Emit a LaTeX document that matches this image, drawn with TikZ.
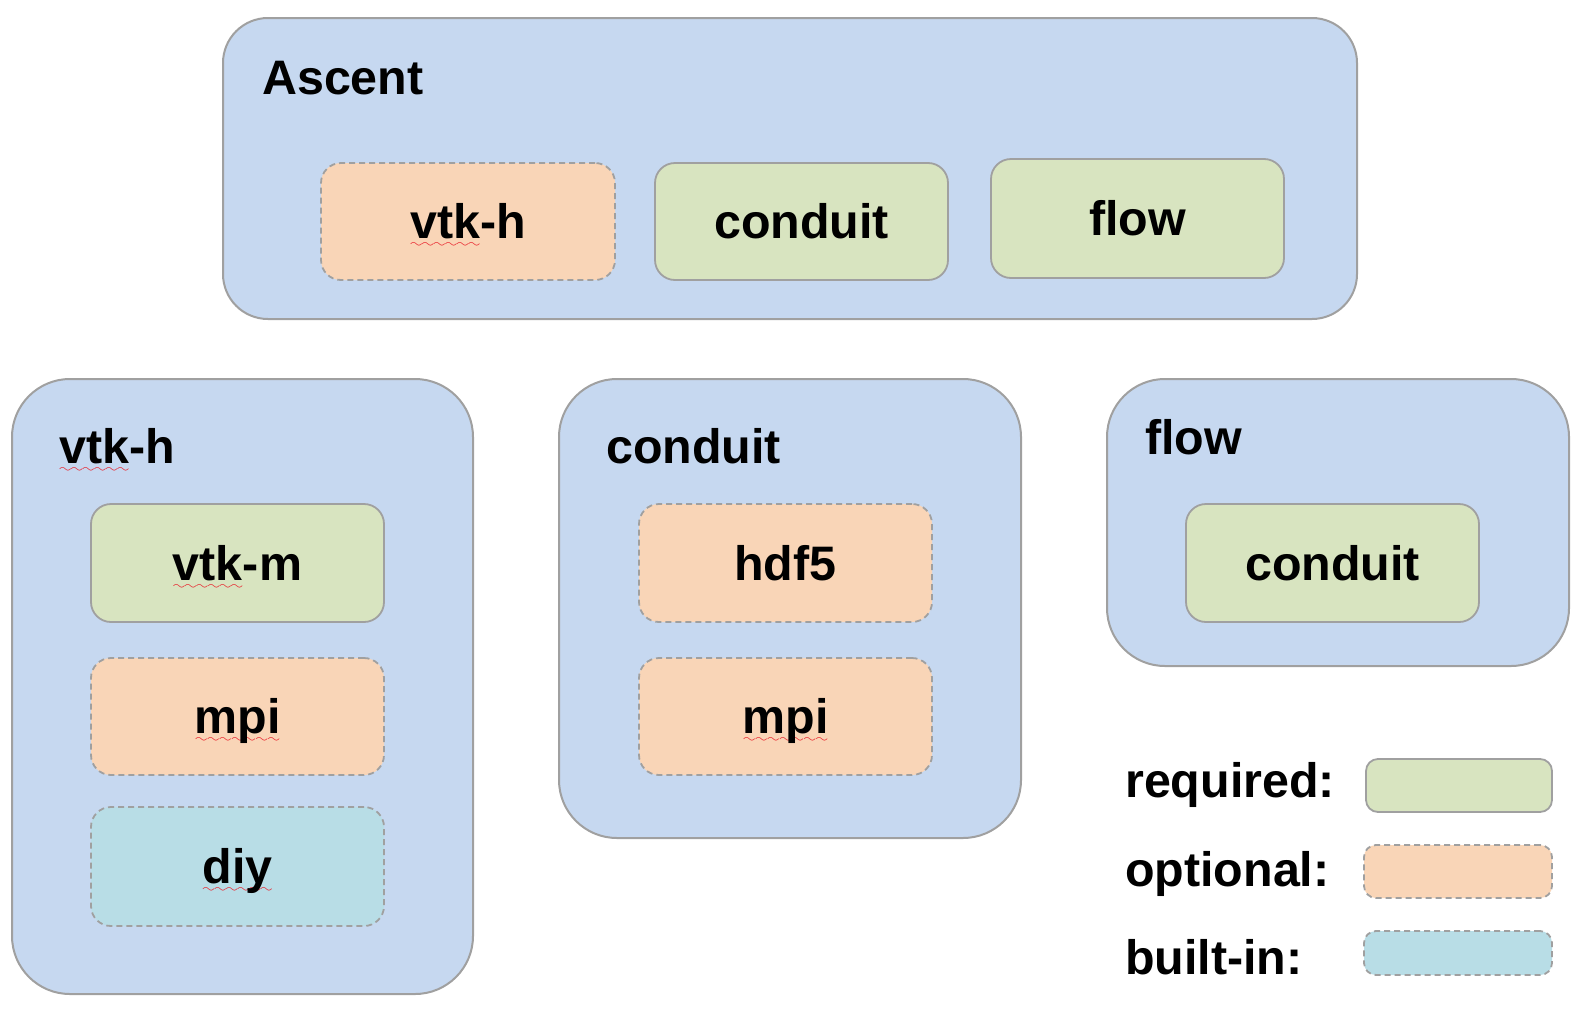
\documentclass[tikz,border=0pt]{standalone}
\usepackage{fontspec}
\setmainfont{Liberation Sans}
\definecolor{groupblue}{HTML}{C6D8F0}
\definecolor{reqgreen}{HTML}{D8E4C0}
\definecolor{optorange}{HTML}{F9D5B7}
\definecolor{bicyan}{HTML}{B8DDE6}
\definecolor{edgegray}{HTML}{A0A0A0}
\definecolor{squigred}{HTML}{E8202A}
\font\squigfont=lasy6 at 13pt
\newsavebox\spellbox
\newcommand\spellerr[1]{\sbox\spellbox{#1}\rlap{\textcolor{squigred}{\lower9pt\hbox to\wd\spellbox{\xleaders\hbox{\squigfont\char58}\hfil}}}\usebox\spellbox}
\newcommand\pkgfont{\fontsize{48.4}{58}\selectfont\bfseries}
\tikzset{
  pkg/.style={draw=edgegray, line width=1.8pt, rounded corners=20pt,
    minimum width=293pt, minimum height=117pt, text height=34pt,
    text depth=0pt, inner sep=0pt, font=\pkgfont},
  reqbox/.style={pkg, fill=reqgreen},
  optbox/.style={pkg, fill=optorange, dash pattern=on 6pt off 4pt},
  bibox/.style={pkg, fill=bicyan, dash pattern=on 6pt off 4pt},
  group/.style={draw=edgegray, line width=2pt, fill=groupblue},
  title/.style={anchor=base west, inner sep=0pt, font=\pkgfont},
}
\begin{document}
\begin{tikzpicture}[x=1pt, y=-1pt]
\useasboundingbox[fill=white] (0,0) rectangle (1582,1012);
% Ascent
\node[group, rounded corners=45pt, minimum width=1134pt, minimum height=301pt] (ascent) at (790,168.5) {};
\node[title] (ascenttitle) at (262,94) {Ascent};
\node[optbox, minimum width=294pt] (ascvtkh) at (468,221.5) {\spellerr{vtk}-h};
\node[reqbox] (ascconduit) at (801.5,221.5) {conduit};
\node[reqbox, minimum height=119pt] (ascflow) at (1137.5,218.5) {flow};
% vtk-h
\node[group, rounded corners=58pt, minimum width=461pt, minimum height=615pt] (vtkh) at (242.5,686.5) {};
\node[title] (vtkhtitle) at (59,463) {\spellerr{vtk}-h};
\node[reqbox, minimum height=118pt] (vtkm) at (237.5,563) {\spellerr{vtk}-m};
\node[optbox] (vtkhmpi) at (237.5,716.5) {\spellerr{mpi}};
\node[bibox, minimum height=119pt] (diy) at (237.5,866.5) {\spellerr{diy}};
% conduit
\node[group, rounded corners=58pt, minimum width=462pt, minimum height=459pt] (conduit) at (790,608.5) {};
\node[title] (conduittitle) at (606,463) {conduit};
\node[optbox, minimum height=118pt] (hdf5) at (785.5,563) {hdf5};
\node[optbox] (conduitmpi) at (785.5,716.5) {\spellerr{mpi}};
% flow
\node[group, rounded corners=58pt, minimum width=462pt, minimum height=287pt] (flow) at (1338,522.5) {};
\node[title] (flowtitle) at (1145,454) {flow};
\node[reqbox, minimum height=118pt] (flowconduit) at (1332.5,563) {conduit};
% legend
\node[title] (reqlabel) at (1125,797) {required:};
\node[reqbox, rounded corners=12pt, minimum width=186pt, minimum height=53pt] (reqkey) at (1459,785.5) {};
\node[title] (optlabel) at (1125,886) {optional:};
\node[optbox, rounded corners=12pt, minimum width=188pt, minimum height=53pt] (optkey) at (1458,871.5) {};
\node[title] (bilabel) at (1125,974) {built-in:};
\node[bibox, rounded corners=12pt, minimum width=188pt, minimum height=44pt] (bikey) at (1458,953) {};
\end{tikzpicture}
\end{document}
